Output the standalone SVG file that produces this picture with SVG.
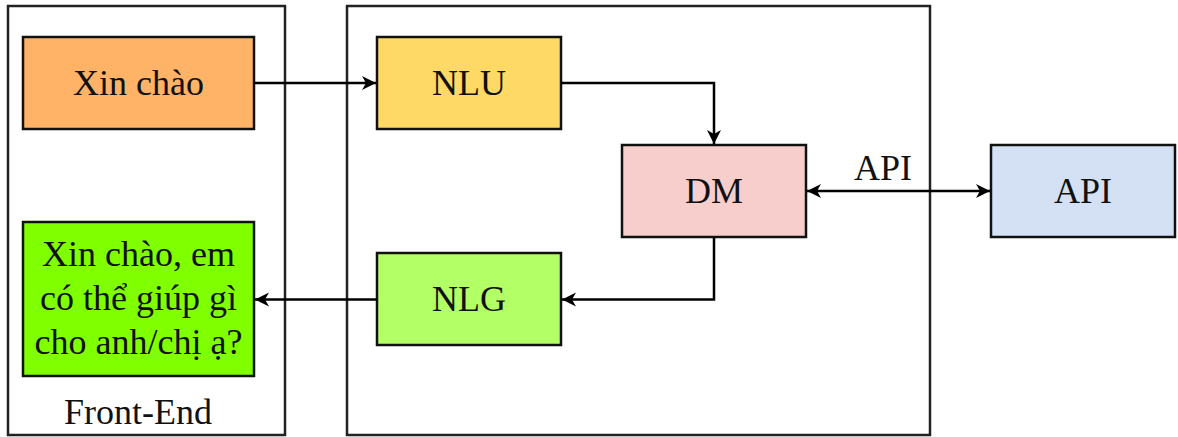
<svg xmlns="http://www.w3.org/2000/svg" width="1178" height="437" viewBox="0 0 1178 437">
<style>
.box{stroke:#111;stroke-width:2.5}
.cont{fill:none;stroke:#222;stroke-width:2.5}
.t{font-family:"Liberation Serif","Times New Roman",serif;font-size:36px;fill:#111;text-anchor:middle}
.e{fill:none;stroke:#000;stroke-width:2.5}
</style>
<defs>
<marker id="ah" markerUnits="userSpaceOnUse" markerWidth="16" markerHeight="16" refX="14" refY="7" orient="auto-start-reverse">
<path d="M0,0 L14,7 L0,14 L4,7 z" fill="#000"/>
</marker>
</defs>
<rect width="1178" height="437" fill="#fff"/>
<g id="frontend">
<rect class="cont" x="8" y="6" width="277" height="429"/>
<text class="t" x="138" y="424">Front-End</text>
</g>
<g id="backend">
<rect class="cont" x="347" y="6" width="583" height="429"/>
</g>
<g id="xinchao">
<rect class="box" x="23" y="37" width="231" height="92" fill="#FFB366"/>
<text class="t" x="138.5" y="95">Xin chào</text>
</g>
<g id="reply">
<rect class="box" x="23" y="222" width="231" height="154" fill="#80FF00"/>
<text class="t" x="138.5" y="266">Xin chào, em</text>
<text class="t" x="138.5" y="310">có thể giúp gì</text>
<text class="t" x="138.5" y="354">cho anh/chị ạ?</text>
</g>
<g id="nlu">
<rect class="box" x="377" y="37" width="184" height="92" fill="#FFD966"/>
<text class="t" x="469" y="95">NLU</text>
</g>
<g id="dm">
<rect class="box" x="622" y="145" width="184" height="92" fill="#F8CECC"/>
<text class="t" x="714" y="203">DM</text>
</g>
<g id="nlg">
<rect class="box" x="377" y="253" width="184" height="92" fill="#B3FF66"/>
<text class="t" x="469" y="311">NLG</text>
</g>
<g id="api">
<rect class="box" x="991" y="145" width="184" height="92" fill="#D4E1F5"/>
<text class="t" x="1083" y="203">API</text>
</g>
<g id="connectors">
<path class="e" d="M254,83 H376" marker-end="url(#ah)"/>
<path class="e" d="M561,83 H714 V144" marker-end="url(#ah)"/>
<path class="e" d="M714,237 V299.5 H562" marker-end="url(#ah)"/>
<path class="e" d="M377,299.5 H255" marker-end="url(#ah)"/>
<path class="e" d="M807,191 H990" marker-start="url(#ah)" marker-end="url(#ah)"/>
<text class="t" x="883" y="180">API</text>
</g>
</svg>
